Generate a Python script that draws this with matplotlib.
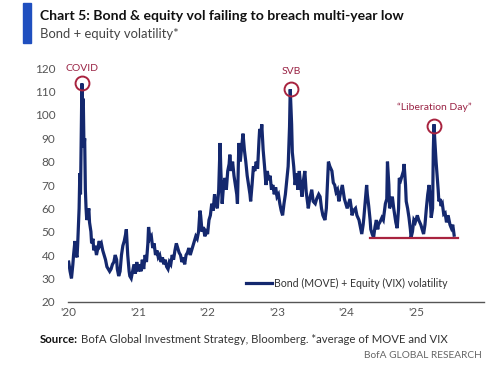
import numpy as np
import matplotlib.pyplot as plt

# ---- data ----
t = [2020.00, 2020.02, 2020.04, 2020.06, 2020.07, 2020.09, 2020.10, 2020.12, 2020.13, 2020.15,
     2020.16, 2020.17, 2020.18, 2020.19, 2020.20, 2020.21, 2020.22, 2020.23, 2020.24, 2020.25,
     2020.26, 2020.28, 2020.29, 2020.30, 2020.32, 2020.33, 2020.35, 2020.36, 2020.38, 2020.40,
     2020.42, 2020.44, 2020.45, 2020.47, 2020.49, 2020.51, 2020.53, 2020.55, 2020.57, 2020.59,
     2020.61, 2020.63, 2020.65, 2020.67, 2020.69, 2020.70, 2020.72, 2020.74, 2020.76, 2020.78,
     2020.80, 2020.82, 2020.83, 2020.85, 2020.87, 2020.88, 2020.90, 2020.92, 2020.94, 2020.96,
     2020.98, 2021.00, 2021.02, 2021.04, 2021.06, 2021.08, 2021.10, 2021.12, 2021.14, 2021.15,
     2021.17, 2021.19, 2021.21, 2021.23, 2021.25, 2021.27, 2021.29, 2021.31, 2021.33, 2021.35,
     2021.37, 2021.39, 2021.41, 2021.43, 2021.45, 2021.47, 2021.49, 2021.51, 2021.53, 2021.55,
     2021.57, 2021.59, 2021.61, 2021.63, 2021.65, 2021.67, 2021.69, 2021.71, 2021.73, 2021.75,
     2021.77, 2021.79, 2021.81, 2021.83, 2021.85, 2021.87, 2021.89, 2021.90, 2021.92, 2021.94,
     2021.96, 2021.98, 2022.00, 2022.02, 2022.04, 2022.06, 2022.08, 2022.10, 2022.12, 2022.14,
     2022.16, 2022.18, 2022.19, 2022.21, 2022.23, 2022.25, 2022.27, 2022.29, 2022.31, 2022.32,
     2022.34, 2022.36, 2022.38, 2022.40, 2022.42, 2022.43, 2022.44, 2022.45, 2022.47, 2022.49,
     2022.51, 2022.53, 2022.55, 2022.57, 2022.59, 2022.61, 2022.62, 2022.64, 2022.66, 2022.68,
     2022.70, 2022.72, 2022.74, 2022.75, 2022.77, 2022.78, 2022.80, 2022.82, 2022.84, 2022.86,
     2022.88, 2022.90, 2022.92, 2022.94, 2022.96, 2022.98, 2023.00, 2023.02, 2023.04, 2023.06,
     2023.08, 2023.10, 2023.12, 2023.14, 2023.16, 2023.18, 2023.19, 2023.20, 2023.21, 2023.22,
     2023.24, 2023.26, 2023.28, 2023.30, 2023.32, 2023.34, 2023.36, 2023.38, 2023.40, 2023.42,
     2023.45, 2023.47, 2023.50, 2023.52, 2023.55, 2023.57, 2023.60, 2023.62, 2023.64, 2023.66,
     2023.69, 2023.71, 2023.74, 2023.76, 2023.79, 2023.81, 2023.83, 2023.85, 2023.87, 2023.89,
     2023.91, 2023.94, 2023.96, 2023.97, 2023.99, 2024.01, 2024.03, 2024.05, 2024.07, 2024.08,
     2024.10, 2024.13, 2024.15, 2024.18, 2024.20, 2024.22, 2024.24, 2024.25, 2024.27, 2024.29,
     2024.30, 2024.32, 2024.34, 2024.35, 2024.37, 2024.39, 2024.41, 2024.43, 2024.45, 2024.46,
     2024.48, 2024.51, 2024.53, 2024.56, 2024.58, 2024.59, 2024.61, 2024.62, 2024.64, 2024.66,
     2024.68, 2024.69, 2024.71, 2024.73, 2024.75, 2024.76, 2024.78, 2024.80, 2024.82, 2024.83,
     2024.85, 2024.86, 2024.88, 2024.90, 2024.92, 2024.93, 2024.95, 2024.97, 2024.99, 2025.02,
     2025.04, 2025.07, 2025.09, 2025.11, 2025.13, 2025.15, 2025.17, 2025.19, 2025.21, 2025.22,
     2025.24, 2025.25, 2025.26, 2025.27, 2025.29, 2025.30, 2025.32, 2025.33, 2025.35, 2025.36,
     2025.38, 2025.40, 2025.42, 2025.44, 2025.46, 2025.47, 2025.49, 2025.51, 2025.53, 2025.55]
vol = [37, 33, 30, 36, 40, 46, 41, 39, 45, 60,
       75, 66, 90, 113.5, 104, 107, 86, 90, 68, 60,
       55, 58, 60, 54, 50, 45, 47, 42, 44, 40,
       43, 46, 44, 45, 42, 40, 38, 35, 34, 33,
       34, 36, 37, 40, 38, 34, 31, 33, 40, 44,
       46, 49, 51, 40, 33, 31, 30, 33, 36, 32,
       37, 33, 36, 33, 38, 34, 40, 37, 45, 52,
       47, 48, 43, 45, 40, 42, 39, 40, 37, 39,
       36, 38, 35, 34, 37, 36, 40, 38, 42, 45,
       43, 41, 40, 37, 39, 36, 40, 41, 43, 40,
       42, 44, 46, 48, 47, 50, 59, 57, 50, 52,
       48, 50, 49, 55, 57, 62, 59, 66, 62, 60,
       68, 88, 77, 62, 70, 73, 68, 76, 79, 83,
       76, 80, 74, 70, 66, 62, 75, 88, 80, 86,
       92, 85, 80, 74, 70, 66, 63, 70, 78, 76,
       80, 77, 89, 94, 92, 96, 85, 78, 70, 76,
       72, 74, 68, 70, 66, 69, 65, 66, 62, 59,
       57, 62, 66, 72, 78, 95, 111, 104, 96, 84,
       78, 70, 75, 68, 76, 70, 65, 72, 76, 67,
       60, 64, 68, 63, 62, 64, 66, 65, 60, 57,
       55, 60, 80, 78, 76, 71, 70, 67, 68, 63,
       66, 70, 66, 64, 62, 60, 62, 64, 60, 57,
       59, 60, 57, 55, 52, 49, 53, 56, 63, 70,
       66, 61, 55, 51, 49, 47.5, 52, 55, 51, 53,
       54, 56, 55, 62, 64, 80, 70, 60, 62, 65,
       60, 58, 54, 51.5, 60, 73, 72, 74, 76, 79,
       70, 63, 60, 56, 51, 47.5, 50, 55, 54, 57,
       55, 53, 51, 49, 53, 60, 66, 70, 62, 56,
       60, 85, 96, 90, 80, 76, 68, 63, 64, 61,
       62, 57.5, 58, 54, 57, 56, 53, 51.5, 53, 48.5]

# annotated events
event_names = ['COVID', 'SVB', '\u201cLiberation Day\u201d']
event_t = [2020.19, 2023.20, 2025.26]
event_v = [113.8, 111.2, 95.1]
label_v = [119.8, 118.8, 103.3]

# multi-year low line
low_t = [2024.34, 2025.61]
low_v = [47.3, 47.3]

yticks = [20, 30, 40, 50, 60, 70, 80, 90, 100, 110, 120]
xticks = [2020, 2021, 2022, 2023, 2024, 2025]
xlabels = ["'20", "'21", "'22", "'23", "'24", "'25"]

navy = '#14286e'
red = '#a8233f'
grey = '#555555'

plt.rcParams['font.family'] = ['Lato', 'DejaVu Sans']

fig = plt.figure(figsize=(5, 3.65), dpi=100)
ax = fig.add_axes([0.136, 0.1734, 0.832, 0.6395])

ax.plot(t, vol, color=navy, lw=2.3, solid_joinstyle='miter',
        label='Bond (MOVE) + Equity (VIX) volatility', zorder=3)
ax.plot(low_t, low_v, color=red, lw=1.6, zorder=4)
ax.plot(event_t, event_v, ls='none', marker='o', ms=10, mfc='none',
        mec=red, mew=1.4, zorder=5)
for name, x, y in zip(event_names, event_t, label_v):
    ax.text(x, y, name, color='#9a2445', fontsize=7.5, ha='center', va='center')

ax.set_xlim(2019.99, 2025.98)
ax.set_ylim(20, 120)
ax.set_yticks(yticks)
ax.set_xticks(xticks)
ax.set_xticklabels(xlabels)
ax.tick_params(length=0, labelsize=8.5, colors=grey, pad=4)
ax.tick_params(axis='y', pad=9)
for s in ['top', 'right', 'left']:
    ax.spines[s].set_visible(False)
ax.spines['bottom'].set_color('#555555')
ax.spines['bottom'].set_linewidth(1.0)

leg = ax.legend(loc='center left', bbox_to_anchor=(0.428, 0.079), frameon=False,
                fontsize=7.6, handlelength=2.5, handletextpad=0.15,
                borderpad=0, borderaxespad=0)
for txt in leg.get_texts():
    txt.set_color('#333333')

# header
fig.patches.append(plt.Rectangle((22.7 / 500, 1 - 43.3 / 365), 8.3 / 500, 40.6 / 365,
                                 transform=fig.transFigure, color='#1f4fbf'))
fig.text(40 / 500, 1 - 15.5 / 365, 'Chart 5: Bond & equity vol failing to breach multi-year low',
         fontsize=10.1, fontweight='bold', color='#111111', va='center')
fig.text(40 / 500, 1 - 34 / 365, 'Bond + equity volatility*',
         fontsize=9.4, color='#444444', va='center')

# footer: bold lead-in followed by the rest of the line
src = fig.text(40 / 500, 1 - 339.5 / 365, 'Source:', fontsize=8.2, fontweight='bold',
               color='#111111', va='center')
fig.canvas.draw()
bb = src.get_window_extent().transformed(fig.transFigure.inverted())
fig.text(bb.x1 + 3 / 500, 1 - 339.5 / 365,
         'BofA Global Investment Strategy, Bloomberg. *average of MOVE and VIX',
         fontsize=8.2, color='#333333', va='center')
fig.text(482 / 500, 1 - 355 / 365, 'BofA GLOBAL RESEARCH', fontsize=7.3,
         color='#666666', va='center', ha='right')

fig.savefig('out.png', dpi=100)
